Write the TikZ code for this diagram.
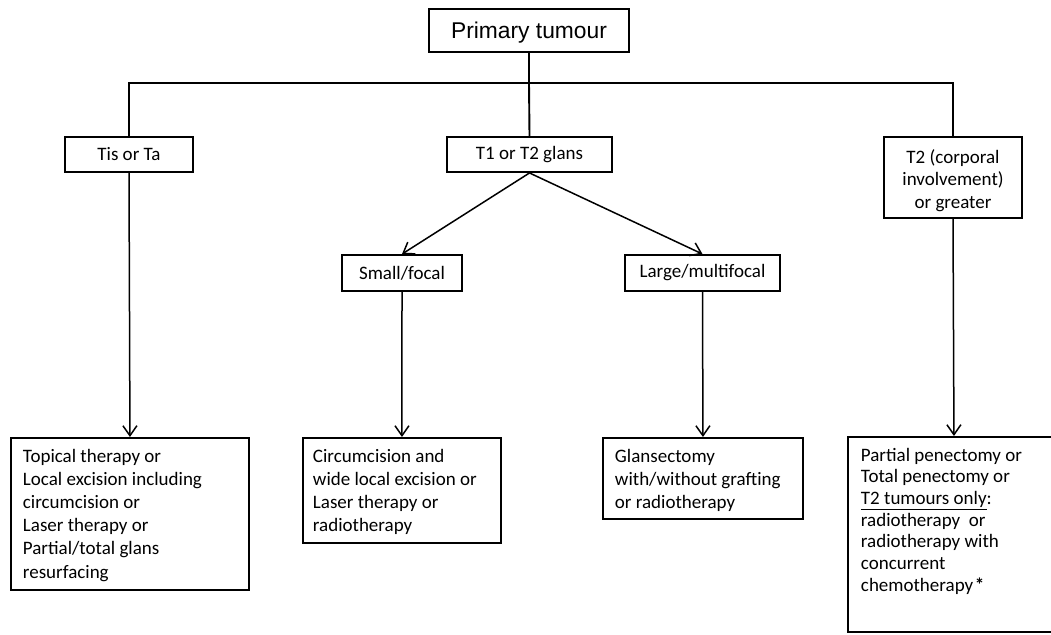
\documentclass[tikz,border=0pt]{standalone}
\usepackage{fontspec}
\setmainfont{Carlito}
\newfontfamily\arialf{Liberation Sans}
\usetikzlibrary{arrows.meta}
\newcommand\bxt[4]{\parbox[t][#2][t]{#1}{\fontsize{19}{#3}\selectfont\vspace*{11pt}#4}}
\begin{document}
\begin{tikzpicture}[x=1pt,y=-1pt,
  box/.style={draw, line width=1.9pt, inner sep=0pt, font=\fontsize{19}{22.5}\selectfont, align=center},
  bb/.style={draw, line width=1.9pt, anchor=north west, inner xsep=12pt, inner ysep=0pt},
  arr/.style={-{Straight Barb[length=10pt,width=14pt,line width=1.5pt]}, line width=1.5pt},
  ln/.style={line width=1.9pt}]
\clip (0,0) rectangle (1051,634);
\node[box, minimum width=200pt, minimum height=43pt, font=\arialf\fontsize{22.8}{27}\selectfont] (top) at (529,30.5) {\rule{0pt}{21.5pt}Primary tumour};
\node[box, minimum width=128pt, minimum height=35pt] (tis) at (129,154.5) {Tis or Ta};
\node[box, minimum width=165pt, minimum height=35pt] (t1) at (529.5,154.5) {T1 or T2 glans};
\node[box, minimum width=138pt, minimum height=81pt] (t2) at (953,177.5) {\rule{0pt}{20pt}T2 (corporal\\involvement)\\or greater};
\node[box, minimum width=120pt, minimum height=36pt] (sm) at (402,273) {Small/focal};
\node[box, minimum width=155pt, minimum height=36pt] (lg) at (702.5,273) {Large/multifocal};
\node[bb] (b1) at (10,437) {\bxt{214pt}{152pt}{23.2}{Topical therapy or\\Local excision including\\circumcision or\\Laser therapy or\\Partial/total glans\\resurfacing}};
\node[bb, inner xsep=10pt] (b2) at (302,437) {\bxt{178pt}{105pt}{23.2}{Circumcision and\\wide local excision or\\Laser therapy or\\radiotherapy}};
\node[bb] (b3) at (602,437) {\bxt{176pt}{81pt}{23.2}{Glansectomy\\with/without grafting\\or radiotherapy}};
\node[bb, inner xsep=13pt] (b4) at (847,436) {\bxt{186pt}{195pt}{21.7}{Partial penectomy or\\Total penectomy or\\\underline{T2 tumours only}:\\radiotherapy\ \ or\\radiotherapy with\\concurrent\\chemotherapy\kern1.5pt\textbf{*}}};
\coordinate (bus) at (529,83);
\draw[ln] (top.south) -- (bus);
\draw[ln] (tis.north) |- (bus) -| (t2.north);
\draw[ln] (bus) -- (t1.north);
\draw[arr] (t1.south) -- (sm.north);
\draw[arr] (t1.south) -- (lg.north);
\draw[arr] (tis.south) -- (b1.north);
\draw[arr] (sm.south) -- (b2.north);
\draw[arr] (lg.south) -- (b3.north);
\draw[arr] (t2.south) -- (b4.north);
\end{tikzpicture}
\end{document}
